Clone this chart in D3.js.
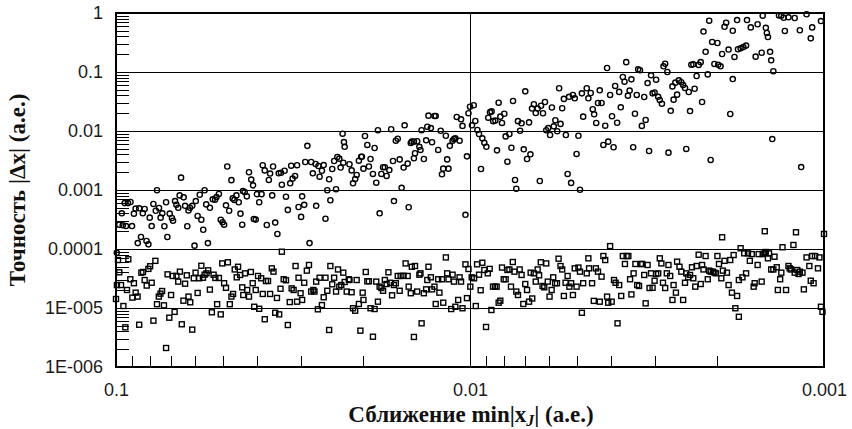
<!DOCTYPE html>
<html>
<head>
<meta charset="utf-8">
<script src="https://cdn.jsdelivr.net/npm/d3@7"></script>
<style>
  body { margin: 0; background: #fff; }
  svg { display: block; }
</style>
</head>
<body>
<svg id="chart" width="852" height="429"></svg>
<script>
// Axis ticks and labels
const xTickValues = [0.1, 0.01, 0.001];
const xTickLabels = ["0.1", "0.01", "0.001"];
const yTickValues = [1, 0.1, 0.01, 0.001, 0.0001, 1e-5, 1e-6];
const yTickLabels = ["1", "0.1", "0.01", "0.001", "0.0001", "1E-005", "1E-006"];

// Series 1 (circles): approach distance vs. accuracy
const circleX = [
  0.0229,0.0227,0.0226,0.0288,0.0655,0.0485,0.0472,0.0421,0.0415,0.041,0.0385,0.038,0.037,0.0367,0.036,0.0347,0.0342,0.0334,0.034,0.0322,
  0.032,0.0317,0.0312,0.0308,0.0292,0.0281,0.0273,0.0278,0.0268,0.0262,0.0266,0.0259,0.025,0.0245,0.0242,0.0237,0.0234,0.0232,0.0228,0.0253,
  0.0239,0.0248,0.0256,0.0272,0.0284,0.0298,0.0294,0.0305,0.030,0.0327,0.0331,0.0362,0.0355,0.035,0.0375,0.0394,0.040,0.0388,0.0408,0.0403,
  0.0427,0.0433,0.0438,0.044,0.0445,0.045,0.0457,0.0463,0.0468,0.0479,0.0489,0.0495,0.050,0.0506,0.0512,0.052,0.0525,0.0533,0.0543,0.0556,
  0.0562,0.058,0.0595,0.0588,0.0574,0.0567,0.055,0.060,0.0609,0.0618,0.0624,0.0638,0.0644,0.0661,0.0667,0.0675,0.0681,0.0629,0.0695,0.069,
  0.0705,0.0722,0.074,0.073,0.0748,0.0756,0.0772,0.0784,0.0766,0.0793,0.0803,0.0716,0.083,0.084,0.086,0.088,0.089,0.085,0.0868,0.082,
  0.081,0.091,0.0925,0.0945,0.0963,0.0979,0.0957,0.0937,0.0901,0.0995,
  0.0219,0.0216,0.0214,0.0211,0.0209,0.0206,0.0203,0.0202,0.020,0.0198,0.0195,0.0193,0.0191,0.0188,0.0186,0.0184,0.0182,0.018,0.0178,0.0176,
  0.0174,0.0172,0.0169,0.0167,0.0165,0.0164,0.0162,0.016,0.0158,0.0156,0.0154,0.0153,0.015,0.0149,0.0147,0.0146,0.0144,0.0144,0.0143,0.0141,
  0.0139,0.0138,0.0137,0.0135,0.0133,0.0132,0.0131,0.0129,0.0128,0.0126,0.0125,0.0123,0.0121,0.012,0.0119,0.0117,0.0116,0.0115,0.0114,0.0112,
  0.0111,0.011,0.0109,0.0107,0.0106,0.0105,0.0103,0.0102,0.0101,0.0100,0.00976,0.00987,0.00966,0.00953,0.00943,0.00931,0.00923,0.00911,0.00899,0.00888,
  0.00878,0.00869,0.0086,0.00848,0.00839,0.0083,0.00821,0.00812,0.008,0.00793,0.00784,0.00774,0.00764,0.00756,0.00746,0.0074,0.00732,0.00722,0.00715,0.00705,
  0.00698,0.0069,0.00681,0.00675,0.00668,0.0066,0.00652,0.00644,0.00635,0.0063,0.00622,0.00614,0.00609,0.00601,0.00594,0.00587,0.0058,0.00574,0.00567,0.0056,
  0.00555,0.00549,0.00543,0.00536,0.0053,0.00525,0.00518,0.00512,0.00506,0.005,0.00494,0.00489,0.00483,0.00479,
  0.00468,0.00463,0.00456,0.0045,0.00446,0.0044,0.00435,0.0043,0.00425,0.0042,0.00415,0.0041,0.00407,0.00402,0.00397,0.00393,0.00389,0.00384,0.00379,0.00375,
  0.0037,0.00366,0.00362,0.00358,0.00354,0.0035,0.00346,0.00342,0.00338,0.00335,0.00331,0.00327,0.00322,0.00319,0.00315,0.00312,0.00308,0.00305,0.00301,0.00298,
  0.00294,0.00291,0.00287,0.00284,0.00281,0.00277,0.00275,0.00271,0.00268,0.00266,0.00263,0.0026,0.00257,0.00253,0.0025,0.00247,0.00245,0.00241,0.00239,0.00237,
  0.00234,0.00232,0.00229,0.00226,0.00223,0.00221,0.00219,0.00216,0.00213,0.00211,0.00209,0.00207,0.00204,0.002,0.00199,0.00196,0.00194,0.00191,0.00189,0.00186,
  0.00184,0.00181,0.00181,0.00179,0.00176,0.00175,0.00172,0.00169,0.00166,0.00165,0.00161,0.00156,0.00154,0.0015,0.00149,0.00146,0.00145,0.00144,0.00142,0.00141,
  0.00139,0.0014,0.00134,0.00132,0.0013,0.00129,0.00126,0.00121,0.00117,0.00116,0.00112,0.00109,0.00108,0.00102
];
const circleY = [
  9.0e-3,6.5e-3,5.4e-3,5.6e-3,1.62e-3,2.5e-3,1.47e-3,2.0e-3,1.5e-3,1.2e-3,2.63e-3,2.15e-3,1.48e-3,1.9e-3,2.5e-3,1.92e-3,1.96e-3,2.12e-3,1.23e-3,1.3e-3,
  2.58e-3,1.56e-3,1.73e-3,2.63e-3,2.98e-3,2.98e-3,2.76e-3,1.92e-3,2.55e-3,2.12e-3,1.68e-3,2.65e-3,1.52e-3,2.27e-3,3.1e-3,3.63e-3,3.4e-3,2.4e-3,2.9e-3,9.9e-4,
  1.03e-3,6.7e-4,3.26e-4,5.4e-4,1.26e-4,7.8e-4,5.6e-4,5.15e-4,3.5e-4,4.6e-4,7.7e-4,8.1e-4,2.8e-4,1.8e-4,2.55e-4,6.2e-4,8.5e-4,8.5e-4,3.23e-4,3.15e-4,
  7.8e-4,9.25e-4,9.6e-4,2.58e-4,3.97e-4,6.2e-4,8.1e-4,6.8e-4,7.2e-4,4.45e-4,5.5e-4,2.58e-4,2.84e-4,3.14e-4,8.56e-4,7.6e-4,6.85e-4,6.95e-4,5.0e-4,5.7e-4,
  9.9e-4,8.3e-4,6.5e-4,3.63e-4,3.14e-4,2.12e-4,1.26e-4,1.14e-4,5.4e-4,5.0e-4,4.5e-4,5.4e-4,7.5e-4,8.1e-4,5.0e-4,5.6e-4,6.5e-4,2.43e-4,3.35e-4,3.02e-4,
  3.97e-4,6.2e-4,4.03e-4,2.43e-4,3.4e-4,4.96e-4,4.45e-4,5.8e-4,9.9e-4,2.45e-4,3.4e-4,1.6e-4,4.77e-4,4.03e-4,4.9e-4,4.85e-4,3.97e-4,1.6e-4,1.26e-4,1.37e-4,
  1.2e-4,6.26e-4,6.0e-4,6.0e-4,4.03e-4,2.58e-4,2.52e-4,2.45e-4,2.45e-4,8.6e-5,
  2.73e-3,2.15e-3,1.3e-3,1.54e-3,1.8e-3,3.14e-3,3.67e-3,3.67e-3,2.3e-3,8.23e-3,5.8e-3,2.5e-3,3.35e-3,1.87e-3,5.15e-3,1.33e-3,1.03e-2,4.03e-4,1.87e-3,2.43e-3,
  2.43e-3,1.73e-3,2.18e-3,1.07e-2,3.1e-3,6.5e-4,6.85e-3,7.4e-3,3.3e-3,1.09e-3,2.4e-3,1.25e-2,2.8e-3,5.1e-4,6.26e-3,6.6e-3,6.6e-3,3.45e-3,4.2e-3,6.7e-3,
  5.4e-3,4.77e-3,1.03e-2,3.35e-3,6.95e-3,1.18e-2,1.82e-2,1.12e-2,6.45e-3,1.8e-2,1.8e-2,4.77e-3,1.01e-2,1.85e-3,2.3e-3,8.3e-3,3.3e-3,2.3e-3,5.6e-3,6.85e-3,
  7.3e-3,7.5e-3,1.73e-2,6.85e-3,1.58e-2,1.22e-2,3.8e-4,3.72e-3,2.0e-2,2.58e-2,2.73e-2,1.25e-2,1.48e-2,1.04e-2,8.9e-3,2.27e-3,7.5e-3,6.3e-3,5.4e-3,1.68e-2,
  2.07e-2,2.15e-2,1.47e-2,1.5e-2,4.7e-3,3.02e-2,1.75e-2,1.37e-2,1.96e-2,8.1e-3,3.02e-3,8.9e-3,5.2e-3,3.23e-2,1.48e-3,1.05e-3,1.47e-2,1.01e-2,1.35e-2,4.9e-3,
  4.7e-2,3.35e-3,1.4e-2,4.03e-3,2.4e-2,2.84e-2,2.02e-2,2.4e-2,1.42e-3,2.68e-2,2.0e-2,3.1e-2,1.03e-2,1.12e-2,8.56e-3,2.5e-2,1.2e-2,1.52e-2,9.9e-3,5.3e-2,
  1.32e-2,2.43e-2,3.5e-2,8.56e-3,1.87e-3,3.8e-2,1.32e-3,4.08e-2,3.58e-2,4.08e-3,8.3e-3,1.01e-3,4.35e-2,1.75e-2,
  5.3e-2,3.58e-2,4.41e-2,2.34e-2,1.92e-2,1.37e-2,2.98e-2,4.9e-2,2.98e-2,5.8e-3,1.23e-2,0.117,6.6e-3,4.08e-2,1.78e-2,5.3e-3,5.8e-2,1.38e-2,4.6e-2,2.52e-2,
  8.23e-2,6.85e-2,0.147,3.97e-2,4.85e-2,7.5e-2,5.3e-3,1.96e-2,4.08e-2,0.111,0.107,1.22e-2,3.77e-2,1.54e-2,6.5e-2,4.58e-3,8.8e-2,4.35e-2,4.5e-2,7.4e-2,
  3.8e-2,3.35e-2,2.9e-2,0.125,0.138,0.1,4.3e-3,2.2e-2,5.7e-2,3.4e-2,6.6e-2,4.13e-2,7.2e-2,6.7e-2,6.0e-2,5.36e-2,4.96e-3,4.58e-2,2.18e-2,0.133,
  0.135,5.2e-2,8.56e-2,0.132,0.147,3.1e-2,0.485,0.22,9.1e-2,0.74,3.23e-3,0.323,0.137,0.31,0.133,0.125,0.202,0.585,0.685,0.24,
  1.94e-2,0.5,7.6e-2,0.18,0.76,0.243,0.252,0.265,0.28,0.76,0.57,0.182,0.645,0.212,0.9,0.56,0.458,0.392,0.22,0.158,
  0.103,7.3e-3,0.91,0.9,0.83,0.496,0.845,0.823,0.51,2.45e-3,0.95,0.372,0.57,0.73
];

// Series 2 (squares): approach distance vs. accuracy
const squareX = [
  0.100,0.0987,0.0979,0.0994,0.0968,0.0953,0.0941,0.0923,0.0931,0.0911,0.0899,0.0890,0.0880,0.0869,0.0860,0.0848,0.0839,0.0830,0.0819,0.0810,
  0.0801,0.0793,0.0784,0.0774,0.0766,0.0757,0.0749,0.0741,0.0732,0.0722,0.0715,0.0707,0.0699,0.0691,0.0683,0.0675,0.0667,0.0660,0.0652,0.0645,
  0.0638,0.0631,0.0624,0.0617,0.0609,0.0603,0.0596,0.0588,0.0582,0.0574,0.0568,0.0562,0.0555,0.0549,0.0543,0.0536,0.0530,0.0524,0.0518,0.0512,
  0.0506,0.0501,0.0495,0.0489,0.0483,0.0477,0.0472,0.0467,0.0462,0.0456,0.0452,0.0446,0.0440,0.0437,0.0432,0.0426,0.0421,0.0416,0.0411,0.0407,
  0.0403,0.0397,0.0394,0.0389,0.0385,0.0380,0.0377,0.0372,0.0367,0.0363,0.0359,0.0355,0.0351,0.0346,0.0343,0.0340,0.0336,0.0331,0.0327,0.0323,
  0.0319,0.0315,0.0311,0.0308,0.0305,0.0301,0.0298,0.0294,0.0289,0.0285,0.0281,0.0277,0.0275,0.0272,0.0269,0.0266,0.0262,0.0259,0.0256,0.0253,
  0.0250,0.0248,0.0245,0.0242,0.0239,0.0236,0.0234,0.0231,0.0228,0.0226,0.0223,0.0220,
  0.0219,0.0216,0.0214,0.0211,0.0209,0.0206,0.0204,0.0201,0.0200,0.0197,0.0195,0.0193,0.0191,0.0188,0.0186,0.0184,0.0182,0.0180,0.0178,0.0176,
  0.0174,0.0172,0.0170,0.0168,0.0166,0.0164,0.0162,0.0160,0.0158,0.0157,0.0154,0.0152,0.0150,0.0149,0.0147,0.0146,0.0144,0.0143,0.0141,0.0139,
  0.0138,0.0137,0.0135,0.0133,0.0132,0.0131,0.0129,0.0128,0.0126,0.0125,0.0123,0.0122,0.0120,0.0119,0.0117,0.0116,0.0115,0.0113,0.0112,0.0111,
  0.0110,0.0108,0.0107,0.0106,0.0105,0.0103,0.0102,0.0101,0.00998,0.00989,0.00974,0.00963,0.00955,0.00943,0.00933,0.00923,0.00911,0.00901,0.00891,0.00880,
  0.00870,0.00861,0.00850,0.00841,0.00830,0.00821,0.00812,0.00803,0.00793,0.00784,0.00774,0.00766,0.00757,0.00749,0.00740,0.00732,0.00724,0.00715,0.00707,0.00698,
  0.00690,0.00681,0.00674,0.00667,0.00660,0.00652,0.00644,0.00638,0.00631,0.00624,0.00617,0.00609,0.00603,0.00596,0.00588,0.00582,0.00575,0.00568,0.00562,0.00555,
  0.00549,0.00543,0.00537,0.00530,0.00524,0.00518,0.00512,0.00506,0.00500,0.00494,0.00489,0.00483,0.00479,
  0.00468,0.00463,0.00461,0.00452,0.00447,0.00441,0.00435,0.00430,0.00425,0.00420,0.00415,0.00410,0.00407,0.00402,0.00398,0.00392,0.00388,0.00383,0.00379,0.00374,
  0.00370,0.00365,0.00361,0.00357,0.00353,0.00350,0.00345,0.00341,0.00337,0.00333,0.00329,0.00326,0.00322,0.00319,0.00315,0.00311,0.00308,0.00305,0.00301,0.00298,
  0.00294,0.00291,0.00288,0.00285,0.00281,0.00278,0.00275,0.00272,0.00268,0.00266,0.00262,0.00260,0.00256,0.00253,0.00250,0.00247,0.00245,0.00242,0.00239,0.00236,
  0.00234,0.00231,0.00229,0.00226,0.00223,0.00221,0.00219,0.00216,0.00213,0.00211,0.00209,0.00206,0.00204,0.00202,0.00200,0.00198,0.00195,0.00193,0.00191,0.00188,
  0.00186,0.00184,0.00182,0.00180,0.00178,0.00176,0.00174,0.00174,0.00172,0.00170,0.00168,0.00166,0.00164,0.00162,0.00160,0.00158,0.00157,0.00154,0.00153,0.00150,
  0.00149,0.00147,0.00146,0.00144,0.00143,0.00141,0.00139,0.00138,0.00136,0.00135,0.00133,0.00132,0.00131,0.00128,0.00126,0.00125,0.00124,0.00122,0.00121,0.00119,
  0.00118,0.00117,0.00115,0.00114,0.00112,0.00110,0.00109,0.00108,0.00107,0.00106,0.00104,0.00103,0.00102,0.00101,
  0.00194,0.00147,0.00120,0.00100
];
const squareY = [
  1.42e-5,6.5e-5,4.03e-5,2.45e-5,2.45e-5,1.08e-5,4.7e-6,6.7e-5,2.02e-5,3.07e-5,1.5e-5,2.63e-5,1.82e-5,1.56e-5,5.2e-6,3.97e-5,4.08e-5,2.98e-5,2.4e-5,4.6e-5,
  5.1e-5,2.68e-5,6.1e-6,6.3e-5,1.16e-5,1.56e-5,1.75e-5,1.94e-5,1.11e-5,2.1e-6,3.72e-5,6.85e-6,1.66e-5,3.49e-5,8.6e-6,3.49e-5,2.8e-5,4.13e-5,5.3e-6,1.33e-5,
  2.58e-5,3.58e-5,1.56e-5,1.25e-5,4.3e-6,3.19e-5,3.97e-5,1.8e-5,3.19e-5,5.2e-5,3.26e-5,3.67e-5,3.87e-5,4.35e-5,2.05e-5,8.45e-6,3.67e-5,3.23e-5,1.16e-5,3.23e-5,
  7.8e-6,5.7e-5,2.63e-5,2.2e-5,5.95e-5,1.16e-5,1.56e-5,1.73e-5,4.5e-5,3.31e-5,5.0e-5,3.63e-5,2.24e-5,1.66e-5,3.87e-5,2.02e-5,1.56e-5,4.08e-5,2.63e-5,1.05e-5,
  2.02e-5,3.49e-5,9.7e-6,3.19e-5,1.73e-5,6.45e-6,2.87e-5,2.87e-5,1.73e-5,4.7e-5,4.13e-5,8.3e-6,1.48e-5,7.8e-6,2.12e-5,9.0e-5,3.07e-5,2.95e-5,5.15e-6,1.26e-5,
  2.15e-5,2.02e-5,5.15e-5,1.28e-5,3.26e-5,1.78e-5,1.37e-5,2.68e-5,4.3e-5,5.36e-5,1.9e-5,2.02e-5,1.9e-5,2.8e-5,9.5e-6,3.26e-5,1.12e-5,1.52e-5,3.26e-5,1.96e-5,
  4.24e-6,5.15e-5,2.52e-5,3.26e-5,1.9e-5,4.5e-5,2.3e-5,2.45e-5,3.97e-5,2.76e-5,1.9e-5,3.07e-5,
  2.98e-5,1.85e-5,9.9e-6,9.0e-6,2.98e-5,1.17e-5,4.13e-6,1.82e-5,1.37e-5,4.08e-5,2.84e-5,2.84e-5,9.9e-6,3.26e-6,9.6e-6,2.8e-5,1.28e-5,2.3e-5,2.18e-5,1.96e-5,
  2.98e-5,2.55e-5,4.03e-5,2.68e-5,1.64e-5,2.45e-5,2.63e-5,3.49e-5,1.96e-5,3.49e-5,3.52e-5,5.7e-5,3.49e-5,2.3e-5,1.78e-5,5.0e-5,3.23e-6,5.15e-5,1.9e-5,3.67e-5,
  3.87e-5,5.5e-6,1.78e-5,2.07e-5,2.98e-5,5.0e-5,3.31e-5,2.07e-5,2.3e-5,1.17e-5,3.07e-5,1.82e-5,3.07e-5,1.23e-5,7.2e-5,3.87e-5,3.07e-5,9.6e-6,3.67e-5,2.8e-5,
  1.05e-5,1.37e-5,3.31e-5,2.8e-5,9.9e-6,5.5e-5,1.47e-5,4.58e-5,2.3e-5,3.31e-5,3.19e-5,1.08e-5,5.5e-5,3.67e-5,2.0e-5,5.85e-5,4.41e-5,4.77e-6,3.87e-5,4.6e-5,
  9.25e-6,2.3e-5,2.3e-5,2.3e-5,1.23e-5,1.33e-5,4.85e-5,3.07e-5,3.07e-5,4.41e-5,4.5e-5,2.3e-5,6.02e-5,4.13e-5,1.9e-5,1.66e-5,4.5e-5,3.63e-5,1.17e-5,2.55e-5,
  2.02e-5,1.28e-5,3.97e-5,1.45e-5,3.87e-5,2.8e-5,4.5e-5,3.58e-5,5.95e-5,2.36e-5,2.24e-5,5.7e-5,2.8e-5,1.56e-5,2.02e-5,3.31e-5,2.63e-5,2.63e-5,6.85e-5,5.15e-5,
  4.5e-5,1.6e-5,2.68e-5,3.49e-5,2.3e-5,2.63e-5,1.66e-5,4.7e-5,2.3e-5,4.85e-5,4.13e-5,8.3e-6,2.63e-5,
  3.87e-5,6.95e-5,4.7e-5,2.63e-5,1.32e-5,4.7e-5,4.13e-5,1.28e-5,3.4e-5,7.6e-5,6.5e-5,1.56e-5,1.23e-5,1.12e-4,1.28e-5,2.98e-5,2.68e-5,5.5e-6,2.45e-5,1.6e-5,
  7.6e-5,5.57e-5,7.6e-5,7.6e-5,3.07e-5,1.7e-5,3.87e-5,5.57e-5,2.45e-5,2.36e-5,5.57e-5,5.57e-5,3.63e-5,1.2e-5,5.36e-5,2.18e-5,3.87e-5,2.2e-5,2.9e-5,3.77e-5,
  3.87e-5,6.95e-5,5.7e-5,2.68e-5,2.18e-5,3.87e-5,5.36e-5,3.49e-5,1.37e-5,2.45e-5,1.82e-5,6.1e-5,5.0e-5,4.13e-5,1.37e-5,2.68e-5,3.87e-5,3.31e-5,3.63e-5,4.9e-5,
  3.19e-5,2.3e-5,5.15e-5,8.0e-5,2.55e-5,5.36e-5,4.5e-5,7.6e-5,3.07e-5,4.3e-5,4.13e-5,4.13e-5,3.97e-5,3.87e-5,7.6e-5,5.57e-5,3.19e-5,4.3e-5,6.3e-5,3.97e-5,
  2.45e-5,6.5e-5,1.82e-5,7.9e-5,9.9e-6,1.6e-5,7.1e-6,2.98e-5,1.03e-4,3.31e-5,8.45e-5,3.87e-5,8.45e-5,6.3e-5,8.2e-5,2.3e-5,2.63e-5,5.36e-5,8.2e-5,2.8e-5,
  8.2e-5,8.6e-5,8.9e-5,6.95e-5,8.45e-5,4.5e-5,4.5e-5,7.4e-5,4.9e-5,2.02e-5,3.07e-5,3.97e-5,1.07e-4,2.02e-5,5.15e-5,4.7e-5,4.5e-5,1.17e-4,3.97e-5,4.41e-5,
  3.77e-5,4.13e-5,3.97e-5,2.07e-5,7.2e-5,5.15e-5,2.9e-5,7.6e-5,2.63e-5,7.6e-5,4.7e-5,7.2e-5,1.05e-5,8.6e-6,
  1.58e-4,2.0e-4,1.92e-4,1.8e-4
];

// Layout
const width = 852, height = 429;
const plot = { left: 116, right: 824, top: 13, bottom: 367 };

const svg = d3.select("#chart");

const x = d3.scaleLog().domain([0.1, 0.001]).range([plot.left, plot.right]);
const y = d3.scaleLog().domain([1e-6, 1]).range([plot.bottom, plot.top]);

const labelFont = "'Liberation Sans', Arial, Helvetica, sans-serif";
const titleFont = "'Liberation Serif', 'Times New Roman', Times, serif";

// Decade grid lines
const grid = svg.append("g").attr("stroke", "#000").attr("stroke-width", 1)
  .attr("shape-rendering", "crispEdges");
grid.selectAll("line.h").data(yTickValues.slice(1, -1)).join("line")
  .attr("class", "h")
  .attr("x1", plot.left).attr("x2", plot.right)
  .attr("y1", d => y(d)).attr("y2", d => y(d));
grid.append("line")
  .attr("x1", x(0.01)).attr("x2", x(0.01))
  .attr("y1", plot.top).attr("y2", plot.bottom);

// Minor ticks (2..9 of each decade) drawn inward from the left and bottom edges
const isDecade = v => Math.abs(Math.log10(v) - Math.round(Math.log10(v))) < 1e-9;
const yMinor = y.ticks().filter(v => !isDecade(v));
const xMinor = x.ticks().filter(v => !isDecade(v));

svg.append("g")
  .attr("transform", `translate(${plot.left},0)`)
  .call(d3.axisRight(y).tickValues(yMinor).tickSize(12.5).tickFormat(""))
  .call(g => g.select(".domain").remove())
  .call(g => g.selectAll("line").attr("stroke", "#000").attr("shape-rendering", "crispEdges"));

svg.append("g")
  .attr("transform", `translate(0,${plot.bottom})`)
  .call(d3.axisTop(x).tickValues(xMinor).tickSize(11.5).tickFormat(""))
  .call(g => g.select(".domain").remove())
  .call(g => g.selectAll("line").attr("stroke", "#000").attr("shape-rendering", "crispEdges"));

// Labelled axes
const yAxis = svg.append("g")
  .attr("transform", `translate(${plot.left},0)`)
  .call(d3.axisLeft(y).tickValues(yTickValues).tickSize(0).tickPadding(13)
    .tickFormat((d, i) => yTickLabels[i]));
yAxis.select(".domain").remove();
yAxis.selectAll("text")
  .attr("font-family", labelFont).attr("font-size", 18).attr("fill", "#1a1a1a");

const xAxis = svg.append("g")
  .attr("transform", `translate(0,${plot.bottom})`)
  .call(d3.axisBottom(x).tickValues(xTickValues).tickSize(0).tickPadding(16)
    .tickFormat((d, i) => xTickLabels[i]));
xAxis.select(".domain").remove();
xAxis.selectAll("text")
  .attr("font-family", labelFont).attr("font-size", 18).attr("fill", "#1a1a1a");

// Plot frame
svg.append("rect")
  .attr("x", plot.left).attr("y", plot.top)
  .attr("width", plot.right - plot.left).attr("height", plot.bottom - plot.top)
  .attr("fill", "none").attr("stroke", "#000").attr("stroke-width", 1.2)
  .attr("shape-rendering", "crispEdges");

// Markers
const circles = circleX.map((v, i) => ({ x: v, y: circleY[i] }));
const squares = squareX.map((v, i) => ({ x: v, y: squareY[i] }));
const side = 5;

svg.append("g").selectAll("rect").data(squares).join("rect")
  .attr("x", d => x(d.x) - side / 2).attr("y", d => y(d.y) - side / 2)
  .attr("width", side).attr("height", side)
  .attr("fill", "none").attr("stroke", "#000").attr("stroke-width", 1.4);

svg.append("g").selectAll("circle").data(circles).join("circle")
  .attr("cx", d => x(d.x)).attr("cy", d => y(d.y)).attr("r", 2.6)
  .attr("fill", "none").attr("stroke", "#000").attr("stroke-width", 1.4);

// Axis titles
const xTitle = svg.append("text")
  .attr("x", 471).attr("y", 421.5)
  .attr("text-anchor", "middle")
  .attr("font-family", titleFont).attr("font-weight", "bold").attr("font-size", 23)
  .attr("fill", "#111");
xTitle.append("tspan").text("Сближение min|x");
xTitle.append("tspan").attr("font-style", "italic").attr("font-size", 16).attr("dy", 4).text("J");
xTitle.append("tspan").attr("dy", -4).text("| (a.e.)");

svg.append("text")
  .attr("transform", `translate(25,${(plot.top + plot.bottom) / 2}) rotate(-90)`)
  .attr("text-anchor", "middle")
  .attr("font-family", titleFont).attr("font-weight", "bold").attr("font-size", 23)
  .attr("fill", "#111")
  .text("Точность |Δx| (a.e.)");
</script>
</body>
</html>
